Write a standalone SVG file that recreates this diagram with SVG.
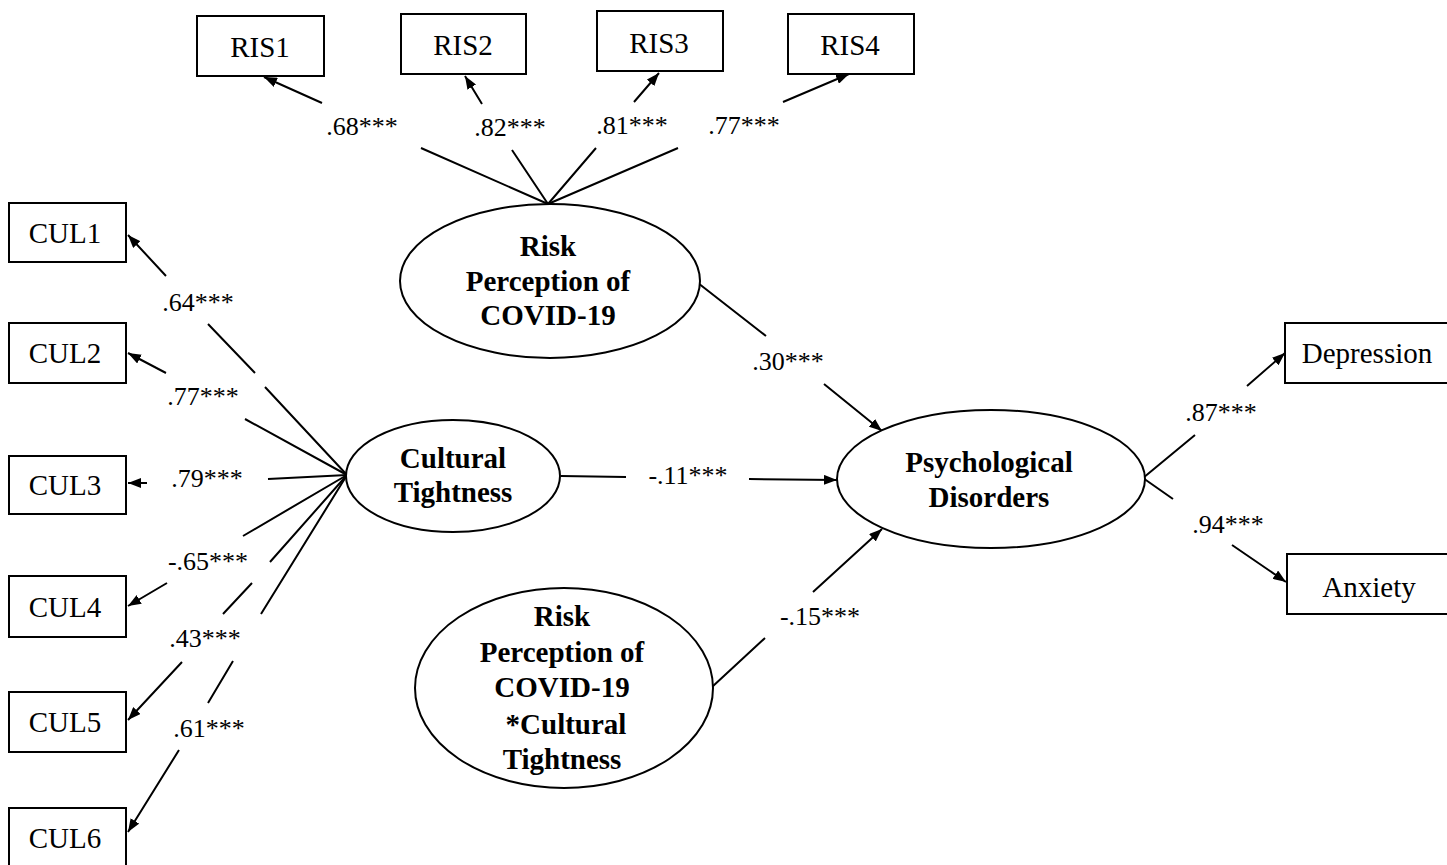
<svg xmlns="http://www.w3.org/2000/svg" width="1447" height="865" viewBox="0 0 1447 865">
<style>
  .box { fill: #fff; stroke: #000; stroke-width: 2; }
  .ell { fill: #fff; stroke: #000; stroke-width: 2; }
  .bt { font-family: "Liberation Serif", "Times New Roman", serif; font-size: 29px; text-anchor: middle; fill: #000; }
  .et { font-family: "Liberation Serif", "Times New Roman", serif; font-size: 29px; font-weight: bold; text-anchor: middle; fill: #000; }
  .lb { font-family: "Liberation Serif", "Times New Roman", serif; font-size: 26px; text-anchor: middle; fill: #000; }
  .c { fill: none; stroke: #000; stroke-width: 2; marker-end: url(#arr); }
</style>
<defs>
  <marker id="arr" markerUnits="userSpaceOnUse" markerWidth="14" markerHeight="10" refX="13" refY="5" orient="auto">
    <path d="M0,0 L13,5 L0,10 Z" fill="#000"/>
  </marker>
</defs>
<rect width="1447" height="865" fill="#fff"/>

<g id="connectors">
  <path class="c" d="M548,204 L421,148 M322,103 L264,77"/>
  <path class="c" d="M548,204 L512,150 M482,104 L465,76"/>
  <path class="c" d="M548,204 L596,148 M634,102 L659,73"/>
  <path class="c" d="M548,204 L678,148 M783,102 L849,74"/>
  <path class="c" d="M347,475 L265,387 M255,373 L208,324 M166,276 L128,235"/>
  <path class="c" d="M347,475 L245,419 M166,373 L128,353"/>
  <path class="c" d="M347,475 L268,479 M147,483 L128,483"/>
  <path class="c" d="M347,475 L243,536 M167,583 L128,606"/>
  <path class="c" d="M347,475 L270,562 M252,583 L223,614 M182,662 L128,720"/>
  <path class="c" d="M347,475 L261,614 M233,661 L208,703 M179,750 L128,832"/>
  <path class="c" d="M698,283 L766,336 M824,384 L882,431"/>
  <path class="c" d="M561,476 L626,477 M749,479 L837,480"/>
  <path class="c" d="M712,687 L765,638 M813,592 L882,529"/>
  <path class="c" d="M1143,478 L1195,435 M1247,386 L1285,353"/>
  <path class="c" d="M1143,478 L1173,499 M1232,545 L1286,582"/>
</g>

<g id="labels">
  <text class="lb" x="362" y="135">.68***</text>
  <text class="lb" x="510" y="136">.82***</text>
  <text class="lb" x="632" y="134">.81***</text>
  <text class="lb" x="744" y="134">.77***</text>
  <text class="lb" x="198" y="311">.64***</text>
  <text class="lb" x="203" y="405">.77***</text>
  <text class="lb" x="207" y="487">.79***</text>
  <text class="lb" x="208" y="570">-.65***</text>
  <text class="lb" x="205" y="647">.43***</text>
  <text class="lb" x="209" y="737">.61***</text>
  <text class="lb" x="788" y="370">.30***</text>
  <text class="lb" x="688" y="484">-.11***</text>
  <text class="lb" x="820" y="625">-.15***</text>
  <text class="lb" x="1221" y="421">.87***</text>
  <text class="lb" x="1228" y="533">.94***</text>
</g>

<g id="RIS1"><rect class="box" x="197" y="16" width="127" height="60"/><text class="bt" x="260" y="57">RIS1</text></g>
<g id="RIS2"><rect class="box" x="401" y="14" width="125" height="60"/><text class="bt" x="463" y="55">RIS2</text></g>
<g id="RIS3"><rect class="box" x="597" y="11" width="126" height="60"/><text class="bt" x="659" y="53">RIS3</text></g>
<g id="RIS4"><rect class="box" x="788" y="14" width="126" height="60"/><text class="bt" x="850" y="55">RIS4</text></g>

<g id="CUL1"><rect class="box" x="9" y="203" width="117" height="59"/><text class="bt" x="65" y="243">CUL1</text></g>
<g id="CUL2"><rect class="box" x="9" y="323" width="117" height="60"/><text class="bt" x="65" y="363">CUL2</text></g>
<g id="CUL3"><rect class="box" x="9" y="456" width="117" height="58"/><text class="bt" x="65" y="495">CUL3</text></g>
<g id="CUL4"><rect class="box" x="9" y="576" width="117" height="61"/><text class="bt" x="65" y="617">CUL4</text></g>
<g id="CUL5"><rect class="box" x="9" y="692" width="117" height="60"/><text class="bt" x="65" y="732">CUL5</text></g>
<g id="CUL6"><rect class="box" x="9" y="808" width="117" height="70"/><text class="bt" x="65" y="848">CUL6</text></g>

<g id="Depression"><rect class="box" x="1285" y="323" width="170" height="60"/><text class="bt" x="1367" y="363">Depression</text></g>
<g id="Anxiety"><rect class="box" x="1287" y="554" width="170" height="60"/><text class="bt" x="1369" y="597">Anxiety</text></g>

<g id="RiskPerception">
  <ellipse class="ell" cx="550" cy="281" rx="150" ry="77"/>
  <text class="et" x="548" y="256">Risk</text>
  <text class="et" x="548" y="291">Perception of</text>
  <text class="et" x="548" y="325">COVID-19</text>
</g>

<g id="CulturalTightness">
  <ellipse class="ell" cx="453" cy="476" rx="107" ry="56"/>
  <text class="et" x="453" y="468">Cultural</text>
  <text class="et" x="453" y="502">Tightness</text>
</g>

<g id="PsychologicalDisorders">
  <ellipse class="ell" cx="991" cy="479" rx="154" ry="69"/>
  <text class="et" x="989" y="472">Psychological</text>
  <text class="et" x="989" y="507">Disorders</text>
</g>

<g id="Interaction">
  <ellipse class="ell" cx="564" cy="688" rx="149" ry="100"/>
  <text class="et" x="562" y="626">Risk</text>
  <text class="et" x="562" y="662">Perception of</text>
  <text class="et" x="562" y="697">COVID-19</text>
  <text class="et" x="566" y="734">*Cultural</text>
  <text class="et" x="562" y="769">Tightness</text>
</g>
</svg>
